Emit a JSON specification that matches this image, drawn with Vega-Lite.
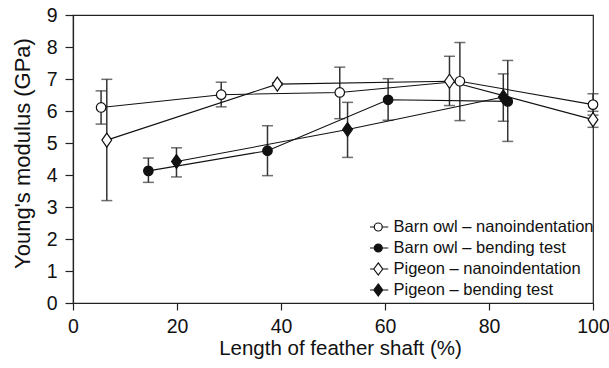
{
  "$schema": "https://vega.github.io/schema/vega-lite/v6.json",
  "autosize": "none",
  "width": 520,
  "height": 288,
  "padding": {"left": 73, "top": 15, "right": 16, "bottom": 65},
  "background": "white",
  "config": {
    "font": "Liberation Sans",
    "view": {"stroke": "#222", "strokeWidth": 1.2},
    "axis": {
      "grid": false,
      "domainColor": "#222",
      "domainWidth": 1.2,
      "tickColor": "#222",
      "tickWidth": 1.2,
      "labelFont": "Liberation Sans",
      "titleFont": "Liberation Sans",
      "labelColor": "#111",
      "titleColor": "#111",
      "labelFontSize": 19.5,
      "labelFlush": false,
      "titleFontWeight": "normal"
    },
    "legend": {
      "orient": "none",
      "legendX": 297,
      "legendY": 204,
      "direction": "vertical",
      "padding": 0,
      "labelFont": "Liberation Sans",
      "labelFontSize": 16.5,
      "labelColor": "#111",
      "labelOffset": 7,
      "rowPadding": 4,
      "clipHeight": 16,
      "gridAlign": "all",
      "symbolSize": 196,
      "symbolStrokeWidth": 1.2,
      "labelLimit": 400
    }
  },
  "data": {
    "values": [
      {"series": "Barn owl – nanoindentation", "x": 5.4, "y": 6.11, "lo": 5.59, "hi": 6.63},
      {"series": "Barn owl – nanoindentation", "x": 28.5, "y": 6.51, "lo": 6.13, "hi": 6.9},
      {"series": "Barn owl – nanoindentation", "x": 51.3, "y": 6.58, "lo": 5.76, "hi": 7.37},
      {"series": "Barn owl – nanoindentation", "x": 74.4, "y": 6.93, "lo": 5.7, "hi": 8.14},
      {"series": "Barn owl – nanoindentation", "x": 100, "y": 6.2, "lo": 5.87, "hi": 6.54},
      {"series": "Barn owl – bending test", "x": 14.5, "y": 4.13, "lo": 3.77, "hi": 4.53},
      {"series": "Barn owl – bending test", "x": 37.4, "y": 4.76, "lo": 3.98, "hi": 5.54},
      {"series": "Barn owl – bending test", "x": 60.6, "y": 6.35, "lo": 5.71, "hi": 7.01},
      {"series": "Barn owl – bending test", "x": 83.6, "y": 6.3, "lo": 5.05, "hi": 7.58},
      {"series": "Pigeon – nanoindentation", "x": 6.5, "y": 5.09, "lo": 3.2, "hi": 6.99},
      {"series": "Pigeon – nanoindentation", "x": 39.3, "y": 6.84, "lo": 6.8, "hi": 6.88},
      {"series": "Pigeon – nanoindentation", "x": 72.4, "y": 6.93, "lo": 6.17, "hi": 7.71},
      {"series": "Pigeon – nanoindentation", "x": 100, "y": 5.73, "lo": 5.49, "hi": 5.99},
      {"series": "Pigeon – bending test", "x": 19.9, "y": 4.42, "lo": 3.94, "hi": 4.85},
      {"series": "Pigeon – bending test", "x": 52.8, "y": 5.42, "lo": 4.55, "hi": 6.27},
      {"series": "Pigeon – bending test", "x": 82.75, "y": 6.44, "lo": 5.68, "hi": 7.16}
    ]
  },
  "encoding": {
    "x": {
      "field": "x",
      "type": "quantitative",
      "scale": {"domain": [0, 100], "nice": false},
      "axis": {"values": [0, 20, 40, 60, 80, 100], "tickSize": 7, "labelPadding": 7, "title": "Length of feather shaft (%)", "titleFontSize": 20.5, "titlePadding": 3, "titleX": 267}
    },
    "y": {
      "field": "y",
      "type": "quantitative",
      "scale": {"domain": [0, 9], "nice": false},
      "axis": {"values": [0, 1, 2, 3, 4, 5, 6, 7, 8, 9], "tickSize": 8, "labelPadding": 8, "title": "Young's modulus (GPa)", "titleFontSize": 22, "titlePadding": 12, "titleY": 138}
    }
  },
  "layer": [
    {
      "mark": {"type": "rule", "color": "#333", "strokeWidth": 1.5},
      "encoding": {"y": {"field": "lo", "type": "quantitative"}, "y2": {"field": "hi"}}
    },
    {
      "mark": {"type": "tick", "orient": "horizontal", "color": "#333", "size": 11, "thickness": 1.5},
      "encoding": {"y": {"field": "lo", "type": "quantitative"}}
    },
    {
      "mark": {"type": "tick", "orient": "horizontal", "color": "#333", "size": 11, "thickness": 1.5},
      "encoding": {"y": {"field": "hi", "type": "quantitative"}}
    },
    {
      "mark": {"type": "line", "color": "#111", "strokeWidth": 1.1},
      "encoding": {"detail": {"field": "series", "type": "nominal"}}
    },
    {
      "mark": {"type": "point", "filled": false, "stroke": "#111", "strokeWidth": 1.2, "size": 196, "opacity": 1},
      "encoding": {
        "shape": {
          "field": "series", "type": "nominal",
          "scale": {
            "domain": ["Barn owl – nanoindentation", "Barn owl – bending test", "Pigeon – nanoindentation", "Pigeon – bending test"],
            "range": [
              "M0.68,0A0.68,0.68,0,1,1,-0.68,0A0.68,0.68,0,1,1,0.68,0Z",
              "M0.68,0A0.68,0.68,0,1,1,-0.68,0A0.68,0.68,0,1,1,0.68,0Z",
              "M0,-1L0.7,0L0,1L-0.7,0Z",
              "M0,-1L0.7,0L0,1L-0.7,0Z"
            ]
          },
          "legend": null
        },
        "fill": {
          "field": "series", "type": "nominal",
          "scale": {
            "domain": ["Barn owl – nanoindentation", "Barn owl – bending test", "Pigeon – nanoindentation", "Pigeon – bending test"],
            "range": ["white", "#111", "white", "#111"]
          },
          "legend": null
        }
      }
    },
    {
      "data": {"values": []},
      "mark": {"type": "point", "filled": false, "stroke": "#111", "strokeWidth": 1.2, "opacity": 1},
      "encoding": {
        "x": {"field": "x", "type": "quantitative"},
        "y": {"field": "y", "type": "quantitative"},
        "shape": {
          "field": "series", "type": "nominal",
          "scale": {
            "domain": ["Barn owl – nanoindentation", "Barn owl – bending test", "Pigeon – nanoindentation", "Pigeon – bending test"],
            "range": [
              "M-1.43,0L-0.57,0M0.57,0L1.43,0M0.57,0A0.57,0.57,0,1,1,-0.57,0A0.57,0.57,0,1,1,0.57,0Z",
              "M-1.43,0L-0.57,0M0.57,0L1.43,0M0.57,0A0.57,0.57,0,1,1,-0.57,0A0.57,0.57,0,1,1,0.57,0Z",
              "M-1.43,0L-0.64,0M0.64,0L1.43,0M0,-0.86L0.64,0L0,0.86L-0.64,0Z",
              "M-1.43,0L-0.64,0M0.64,0L1.43,0M0,-0.86L0.64,0L0,0.86L-0.64,0Z"
            ]
          },
          "legend": {
            "title": null,
            "encode": {"symbols": {"stroke": {"value": "#111"}, "strokeWidth": {"value": 1.2}, "opacity": {"value": 1}}}
          }
        },
        "fill": {
          "field": "series", "type": "nominal",
          "scale": {
            "domain": ["Barn owl – nanoindentation", "Barn owl – bending test", "Pigeon – nanoindentation", "Pigeon – bending test"],
            "range": ["white", "#111", "white", "#111"]
          },
          "legend": {
            "title": null,
            "encode": {"symbols": {"stroke": {"value": "#111"}, "strokeWidth": {"value": 1.2}, "opacity": {"value": 1}}}
          }
        }
      }
    }
  ],
  "resolve": {"scale": {"shape": "independent", "fill": "independent"}}
}
